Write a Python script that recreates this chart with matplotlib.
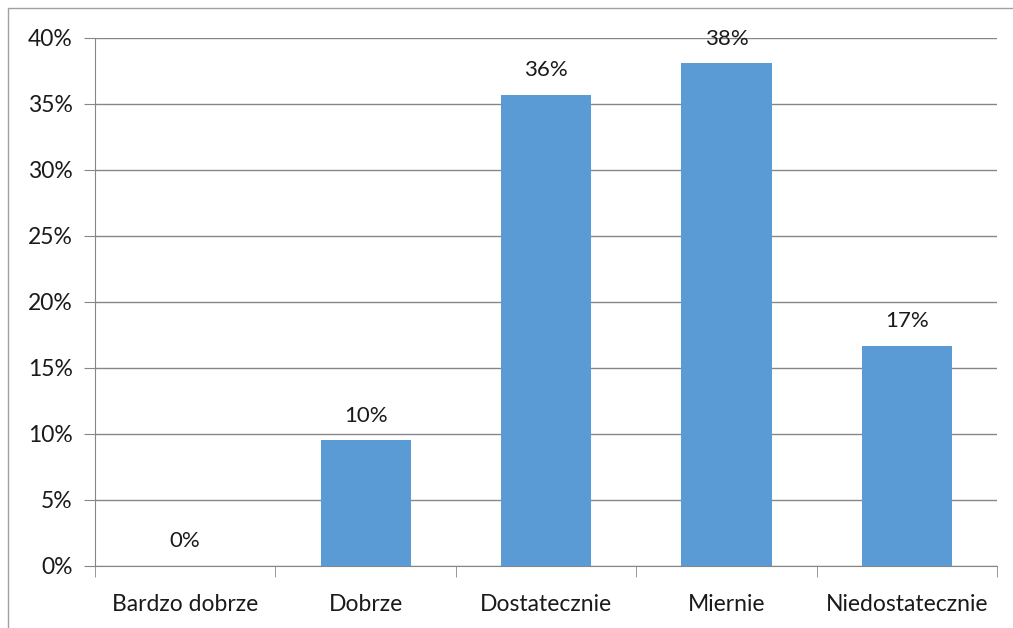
import matplotlib.pyplot as plt
import matplotlib.patches as patches
import numpy as np

categories = ['Bardzo dobrze', 'Dobrze', 'Dostatecznie', 'Miernie', 'Niedostatecznie']
values = [0, 4/42*100, 15/42*100, 16/42*100, 7/42*100]
labels = ['0%', '10%', '36%', '38%', '17%']
yticks = [0, 5, 10, 15, 20, 25, 30, 35, 40]

plt.rcParams['font.family'] = ['Lato', 'DejaVu Sans']

fig = plt.figure(figsize=(10.13, 6.28), dpi=100)
ax = fig.add_axes([95/1013, 1 - 566/628, (997-95)/1013, (566-38)/628])

# outer frame of the chart area
fig.patches.append(patches.Rectangle((8/1013, -0.1), 1.2, 1 - 8/628 + 0.1,
                                     transform=fig.transFigure, fill=False,
                                     edgecolor='#a0a0a0', linewidth=1))

x = np.arange(len(categories))
ax.bar(x, values, width=0.5, color='#5b9bd5', zorder=3)
for xi, v, lab in zip(x, values, labels):
    ax.text(xi, v + 1.1, lab, ha='center', va='bottom', fontsize=16, color='#1a1a1a')

ax.set_xlim(-0.5, len(categories) - 0.5)
ax.set_ylim(0, 40)
ax.set_yticks(yticks)
ax.set_yticklabels([f'{t}%' for t in yticks], fontsize=16.5, color='#1a1a1a')
ax.set_xticks(x)
ax.set_xticklabels(categories, fontsize=16.5, color='#1a1a1a')
ax.tick_params(axis='x', length=0, pad=20)
ax.set_xticks(np.arange(len(categories) + 1) - 0.5, minor=True)
ax.tick_params(axis='x', which='minor', length=8, color='#868686', direction='out')
ax.tick_params(axis='y', length=8, color='#868686', pad=8)
ax.grid(axis='y', color='#868686', linewidth=1, zorder=0)

for s in ['top', 'right']:
    ax.spines[s].set_visible(False)
ax.spines['left'].set_color('#868686')
ax.spines['bottom'].set_color('#868686')

fig.savefig('out.png', dpi=100)
